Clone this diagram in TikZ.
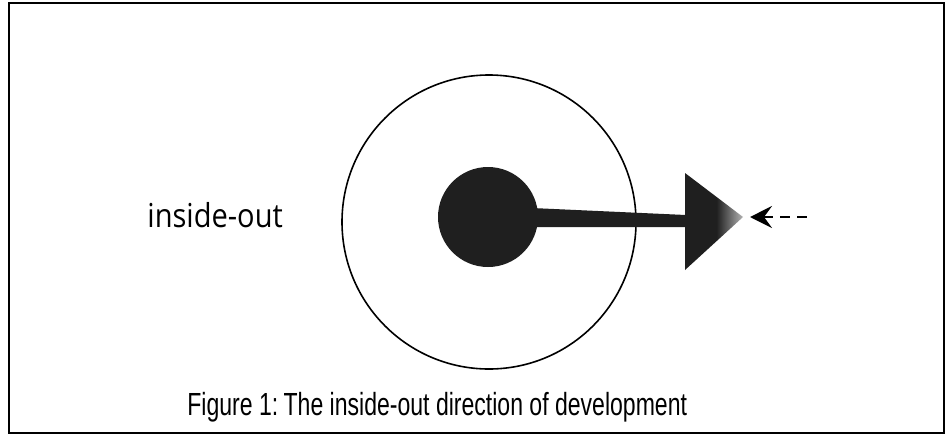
\documentclass[tikz,border=0pt]{standalone}
\usepackage{fontspec}
\setmainfont{Liberation Sans}[FakeStretch=0.72]
\newfontfamily\sidefont{Open Sans}[FakeStretch=0.88]
\usepackage{tikz}
\usetikzlibrary{arrows.meta, positioning}
\pgfdeclarehorizontalshading{tipfade}{100bp}{color(0bp)=(black!88); color(25bp)=(black!88); color(52bp)=(black!88); color(75bp)=(black!30); color(100bp)=(black!30)}
\tikzset{
  frame/.style={draw=black, line width=1pt},
  ring/.style={circle, draw=black, line width=0.8pt, minimum size=147pt,
               inner sep=0pt, outer sep=0pt},
  core/.style={circle, fill=black!88, minimum size=50pt,
               inner sep=0pt, outer sep=0pt},
  pull/.style={{Stealth[length=11pt, width=11pt, inset=4pt]}-, line width=1.1pt,
               dash pattern=on 5pt off 3.5pt},
  side/.style={anchor=base west, inner sep=0pt, font=\sidefont\fontsize{16.5}{19}\selectfont},
  caption/.style={anchor=base west, inner sep=0pt, font=\fontsize{16}{19}\selectfont},
}
\begin{document}
\begin{tikzpicture}[x=0.5pt, y=0.5pt]
  \useasboundingbox (0,0) rectangle (946,436);
  \draw[frame] (9,3) rectangle (944,433);
  %% circles
  \node[ring] (outer) at (489,214) {};
  \node[core] (core) at (488,219) {};
  %% pointer
  \fill[black!88] (532,228) -- (686,221) -- (686,209) -- (532,209) -- cycle;
  \path[shading=tipfade] (685,263) -- (743,219) -- (685,166) -- cycle;
  \coordinate (tip) at (750,219);
  \coordinate (from) at (808,219);
  \draw[pull] (tip) -- (from);
  %% texts
  \node[side] (lbl) at (147,209) {inside-out};
  \node[caption] (cap) at (187,21) {Figure 1:\,The inside-out direction of development};
\end{tikzpicture}
\end{document}
